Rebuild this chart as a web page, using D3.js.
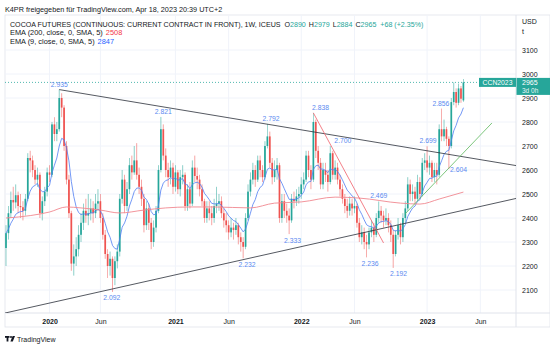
<!DOCTYPE html>
<html><head><meta charset="utf-8">
<script src="https://cdn.jsdelivr.net/npm/d3@7/dist/d3.min.js"></script>
<style>
body{margin:0;background:#fff;}
svg{display:block;font-family:"Liberation Sans",Arial,sans-serif;}
</style>
</head><body>
<svg id="chart" width="550" height="346"></svg>
<script>
// ---------- DATA ----------
const startDate = "2019-09-02"; // first weekly bar
const opens = [
2275,2337,2420,2475,2465,2495,2450,2445,2430,2480,
2650,2640,2600,2560,2580,2420,2470,2510,2590,2580,
2790,2750,2770,2900,2860,2700,2560,2420,2210,2240,
2270,2330,2380,2430,2410,2420,2440,2420,2460,2470,
2400,2330,2250,2200,2230,2150,2220,2260,2480,2560,
2450,2520,2620,2590,2640,2580,2530,2480,2370,2440,
2380,2300,2360,2430,2600,2770,2660,2600,2570,2610,
2530,2590,2520,2570,2580,2450,2520,2460,2610,2575,
2560,2520,2470,2400,2440,2420,2400,2450,2460,2470,
2420,2390,2370,2340,2360,2350,2370,2320,2300,2280,
2400,2510,2560,2600,2560,2640,2600,2570,2700,2740,
2630,2570,2600,2620,2400,2470,2430,2410,2390,2480,
2470,2490,2500,2540,2560,2660,2600,2560,2800,2680,
2630,2540,2600,2580,2550,2670,2580,2610,2560,2520,
2480,2450,2430,2460,2440,2450,2380,2320,2340,2300,
2290,2340,2360,2330,2400,2430,2410,2390,2400,2370,
2330,2250,2330,2370,2320,2400,2440,2540,2500,2510,
2480,2550,2500,2630,2640,2610,2630,2570,2600,2580,
2770,2740,2770,2730,2700,2883,2925,2880,2940,2890];
const highs = [
2370,2450,2510,2530,2540,2510,2500,2470,2500,2670,
2680,2660,2620,2610,2590,2490,2530,2610,2620,2800,
2820,2800,2935,2920,2870,2720,2580,2430,2290,2320,
2370,2420,2460,2480,2500,2480,2470,2500,2520,2500,
2420,2350,2270,2260,2240,2240,2290,2500,2600,2580,
2550,2650,2660,2700,2712,2610,2560,2500,2470,2460,
2400,2390,2450,2620,2821,2790,2690,2630,2640,2630,
2620,2600,2600,2620,2590,2540,2550,2640,2660,2610,
2580,2540,2480,2470,2470,2450,2480,2530,2500,2490,
2440,2420,2390,2400,2380,2400,2380,2340,2320,2420,
2540,2590,2630,2620,2660,2660,2620,2720,2792,2760,
2650,2640,2650,2630,2500,2500,2460,2440,2500,2510,
2520,2530,2570,2590,2680,2680,2620,2838,2810,2700,
2650,2630,2630,2600,2700,2680,2640,2630,2580,2540,
2500,2480,2490,2480,2490,2460,2400,2370,2360,2330,
2360,2390,2380,2420,2469,2450,2430,2440,2420,2390,
2350,2350,2400,2380,2420,2470,2570,2560,2540,2530,
2580,2570,2650,2670,2699,2660,2640,2630,2630,2790,
2856,2810,2780,2740,2900,2965,2940,2960,2950,2979];
const lows = [
2200,2310,2400,2430,2440,2420,2400,2390,2410,2470,
2590,2570,2540,2530,2400,2390,2450,2490,2550,2570,
2720,2720,2760,2820,2680,2540,2400,2180,2160,2200,
2240,2300,2350,2380,2370,2390,2380,2400,2430,2380,
2310,2230,2150,2160,2092,2120,2190,2240,2460,2420,
2430,2500,2560,2580,2560,2500,2450,2340,2350,2350,
2270,2280,2340,2420,2590,2640,2570,2530,2540,2500,
2510,2500,2490,2540,2430,2430,2440,2450,2550,2520,
2490,2450,2380,2380,2390,2370,2380,2420,2430,2400,
2360,2340,2310,2320,2310,2330,2290,2260,2232,2270,
2390,2490,2540,2530,2550,2570,2550,2560,2690,2610,
2540,2550,2560,2380,2380,2400,2380,2333,2380,2440,
2450,2460,2480,2520,2550,2570,2520,2550,2650,2600,
2520,2520,2550,2510,2540,2560,2560,2540,2490,2460,
2420,2400,2410,2410,2420,2360,2300,2290,2270,2236,
2270,2320,2300,2320,2380,2380,2360,2370,2340,2300,
2192,2240,2310,2290,2300,2380,2430,2470,2470,2460,
2470,2480,2490,2600,2590,2580,2550,2550,2540,2570,
2720,2720,2700,2604,2690,2870,2860,2870,2880,2884];
const closes = [
2337,2420,2475,2465,2495,2450,2445,2430,2480,2650,
2640,2600,2560,2580,2420,2470,2510,2590,2580,2790,
2750,2770,2900,2860,2700,2560,2420,2210,2240,2270,
2330,2380,2430,2410,2420,2440,2420,2460,2470,2400,
2330,2250,2200,2230,2150,2220,2260,2480,2560,2450,
2520,2620,2590,2640,2580,2530,2480,2370,2440,2380,
2300,2360,2430,2600,2770,2660,2600,2570,2610,2530,
2590,2520,2570,2580,2450,2520,2460,2610,2575,2560,
2520,2470,2400,2440,2420,2400,2450,2460,2470,2420,
2390,2370,2340,2360,2350,2370,2320,2300,2280,2400,
2510,2560,2600,2560,2640,2600,2570,2700,2740,2630,
2570,2600,2620,2400,2470,2430,2410,2390,2480,2470,
2490,2500,2540,2560,2660,2600,2560,2800,2680,2630,
2540,2600,2580,2550,2670,2580,2610,2560,2520,2480,
2450,2430,2460,2440,2450,2380,2320,2340,2300,2290,
2340,2360,2330,2400,2430,2410,2390,2400,2370,2330,
2250,2330,2370,2320,2400,2440,2540,2500,2510,2480,
2550,2500,2630,2640,2610,2630,2570,2600,2580,2770,
2740,2770,2730,2700,2883,2925,2880,2940,2897,2965];

// EMA 200 (bar index, value)
const ema200Bars = [0,10,18,25,31,39,47,57,66,76,86,101,111,122,136,146,163,171,179,189];
const ema200Vals = [2400,2410,2425,2446,2442,2433,2421,2433,2442,2446,2446,2442,2462,2467,2487,2483,2462,2458,2479,2508];

const yTicks = [2100,2200,2300,2400,2500,2600,2700,2800,2900,3000,3100];
const xTickDates = ["2020-01-06","2020-06-01","2021-01-04","2021-06-07","2022-01-03","2022-06-06","2023-01-02","2023-06-05"];
const xTickLabels = ["2020","Jun","2021","Jun","2022","Jun","2023","Jun"];

// pivot labels: bar position, value, kind
const pivotBars  = [22,43.7,65,99.6,109.5,118.4,130,139.2,150.4,154,162.2,174.4,179.7,187];
const pivotVals  = [2935,2092,2821,2232,2792,2333,2838,2700,2236,2469,2192,2699,2856,2604];
const pivotKinds = ["h","l","h","l","h","l","h","h","l","h","l","h","h","r"];

// drawn trend lines: [bar, price] endpoints
const upperLine = [[22,2935],[211,2618]];
const lowerLine = [[-0.4,2004],[211,2482]];
const redLine   = [[127,2838],[156,2296]];
const greenLine = [[164.9,2417],[200.8,2796]];

const lastClose = 2965;

// ---------- CHART ----------
const W = 550, H = 346;
const plot = {left:5, right:516, top:15, bottom:313};
const svg = d3.select("#chart");
const DAY = 86400000;
const t0 = Date.parse(startDate + "T00:00:00Z");
const barDate = i => new Date(t0 + i*7*DAY);
const n = closes.length;

const x = d3.scaleUtc().domain([barDate(0), barDate(n-1)]).range([6, 463.4]);
const y = d3.scaleLinear().domain([2100, 3000]).range([290, 74]);
const xb = i => x(barDate(i));

const UP = "#26a69a", DOWN = "#ef5350", TXT = "#131722", GRID = "#f0f3fa", BORDER = "#e0e3eb";

// header
svg.append("text").attr("x",5).attr("y",12).attr("font-size",7.25).attr("fill",TXT)
  .text("K4PR freigegeben für TradingView.com, Apr 18, 2023 20:39 UTC+2");

// panel border
svg.append("rect").attr("x",plot.left).attr("y",plot.top).attr("width",W-plot.left).attr("height",327-plot.top)
  .attr("fill","none").attr("stroke",BORDER).attr("stroke-width",0.8);

// grid
const g = svg.append("g");
g.selectAll("line.h").data(yTicks).join("line")
  .attr("x1",plot.left).attr("x2",plot.right).attr("y1",d=>y(d)).attr("y2",d=>y(d))
  .attr("stroke",GRID).attr("stroke-width",1);
const tickDates = xTickDates.map(s=>new Date(s+"T00:00:00Z"));
g.selectAll("line.v").data(tickDates).join("line")
  .attr("x1",d=>x(d)).attr("x2",d=>x(d)).attr("y1",plot.top).attr("y2",plot.bottom)
  .attr("stroke",GRID).attr("stroke-width",1);

// axes
const yAxis = d3.axisRight(y).tickValues(yTicks).tickSize(0).tickPadding(6).tickFormat(d3.format("d"));
const ya = svg.append("g").attr("transform",`translate(${plot.right},0)`).call(yAxis);
ya.select(".domain").attr("stroke",BORDER).attr("d",`M0,${plot.top}V327`);
ya.selectAll("text").attr("font-size",7).attr("fill",TXT).attr("font-family","Liberation Sans, Arial, sans-serif");

const xAxis = d3.axisBottom(x).tickValues(tickDates).tickSize(0).tickPadding(6)
  .tickFormat((d,i)=>xTickLabels[i]);
const xa = svg.append("g").attr("transform",`translate(0,${plot.bottom})`).call(xAxis);
xa.select(".domain").attr("stroke",BORDER).attr("d",`M${plot.left},0H${W}`);
xa.selectAll("text").attr("font-size",7).attr("fill",TXT)
  .attr("font-weight",(d,i)=>/\d/.test(xTickLabels[i]) ? "bold" : "normal")
  .attr("font-family","Liberation Sans, Arial, sans-serif");

svg.append("text").attr("x",522).attr("y",24).attr("font-size",7).attr("fill",TXT).text("USD");
svg.append("text").attr("x",522).attr("y",34).attr("font-size",7).attr("fill",TXT).text("t");

// clip
svg.append("clipPath").attr("id","clip").append("rect")
  .attr("x",plot.left).attr("y",plot.top).attr("width",plot.right-plot.left).attr("height",plot.bottom-plot.top);
const pg = svg.append("g").attr("clip-path","url(#clip)");

// last price dotted line
pg.append("line").attr("x1",plot.left).attr("x2",plot.right).attr("y1",y(lastClose)).attr("y2",y(lastClose))
  .attr("stroke",UP).attr("stroke-width",0.8).attr("stroke-dasharray","1,2");

// candles
const bars = d3.range(n).map(i=>({i,o:opens[i],h:highs[i],l:lows[i],c:closes[i]}));
const cg = pg.append("g");
cg.selectAll("line.w").data(bars).join("line")
  .attr("x1",d=>xb(d.i)).attr("x2",d=>xb(d.i)).attr("y1",d=>y(d.h)).attr("y2",d=>y(d.l))
  .attr("stroke",d=>d.c>=d.o?UP:DOWN).attr("stroke-width",0.7).attr("opacity",0.75);
cg.selectAll("rect").data(bars).join("rect")
  .attr("x",d=>xb(d.i)-0.85).attr("width",1.7)
  .attr("y",d=>y(Math.max(d.o,d.c)))
  .attr("height",d=>Math.max(0.8, Math.abs(y(d.o)-y(d.c))))
  .attr("fill",d=>d.c>=d.o?UP:DOWN);

// EMA 9 computed from closes
const ema9 = [];
closes.forEach((c,i)=>{ ema9.push(i===0 ? c : ema9[i-1] + (2/10)*(c-ema9[i-1])); });
pg.append("path").datum(ema9)
  .attr("d", d3.line().x((d,i)=>xb(i)).y(d=>y(d)))
  .attr("fill","none").attr("stroke","#4f7ef2").attr("stroke-width",0.8);

// EMA 200
pg.append("path").datum(ema200Bars.map((b,k)=>[b,ema200Vals[k]]))
  .attr("d", d3.line().x(d=>xb(d[0])).y(d=>y(d[1])).curve(d3.curveMonotoneX))
  .attr("fill","none").attr("stroke","#f08890").attr("stroke-width",0.9);

// trend lines
const tl = (pts,color,w)=>pg.append("line")
  .attr("x1",xb(pts[0][0])).attr("y1",y(pts[0][1]))
  .attr("x2",xb(pts[1][0])).attr("y2",y(pts[1][1]))
  .attr("stroke",color).attr("stroke-width",w);
tl(upperLine,"#2a2e39",0.8);
tl(lowerLine,"#2a2e39",0.8);
tl(redLine,"#f0606a",0.8);
tl(greenLine,"#5cb85c",0.8);

// pivot labels
pg.selectAll("text.pv").data(pivotBars.map((b,k)=>({b,v:pivotVals[k],k:pivotKinds[k]}))).join("text")
  .attr("x",d=>xb(d.b)).attr("y",d=>y(d.v) + (d.k==="h" ? -3 : d.k==="l" ? 8.5 : 2.5))
  .attr("text-anchor","middle").attr("font-size",6.8).attr("fill","#5b8af0")
  .text(d=>d3.format(".3f")(d.v/1000));

// symbol tag and price tag
const ty = y(lastClose);
svg.append("rect").attr("x",479).attr("y",ty-4.5).attr("width",37).attr("height",9).attr("fill",UP);
svg.append("text").attr("x",497.5).attr("y",ty+2.4).attr("text-anchor","middle").attr("font-size",6.8)
  .attr("fill","#fff").text("CCN2023");
svg.append("rect").attr("x",516.5).attr("y",ty-4.5).attr("width",33.5).attr("height",17).attr("fill",UP);
svg.append("text").attr("x",522).attr("y",ty+2.4).attr("font-size",7).attr("fill","#fff").text(String(lastClose));
svg.append("text").attr("x",522).attr("y",ty+10.2).attr("font-size",6.5).attr("fill","#fff").attr("opacity",0.9).text("3d 0h");

// legend
const lg = svg.append("g").attr("font-size",7.1).attr("fill",TXT);
const l1 = lg.append("text").attr("x",10).attr("y",26.5);
l1.append("tspan").text("COCOA FUTURES (CONTINUOUS: CURRENT CONTRACT IN FRONT), 1W, ICEUS");
l1.append("tspan").attr("dx",4).text("O");
l1.append("tspan").attr("fill",UP).text("2890");
l1.append("tspan").attr("dx",3).text("H");
l1.append("tspan").attr("fill",UP).text("2979");
l1.append("tspan").attr("dx",3).text("L");
l1.append("tspan").attr("fill",UP).text("2884");
l1.append("tspan").attr("dx",3).text("C");
l1.append("tspan").attr("fill",UP).text("2965");
l1.append("tspan").attr("dx",4).attr("fill",UP).text("+68 (+2.35%)");
const l2 = lg.append("text").attr("x",10).attr("y",35.2).attr("font-size",7.4);
l2.append("tspan").text("EMA (200, close, 0, SMA, 5)");
l2.append("tspan").attr("dx",3).attr("fill","#f23645").text("2508");
const l3 = lg.append("text").attr("x",10).attr("y",44).attr("font-size",7.4);
l3.append("tspan").text("EMA (9, close, 0, SMA, 5)");
l3.append("tspan").attr("dx",3).attr("fill","#2962ff").text("2847");

// footer logo
const logo = svg.append("g").attr("fill",TXT);
logo.append("rect").attr("x",5).attr("y",336).attr("width",4.5).attr("height",1.8);
logo.append("rect").attr("x",6.6).attr("y",336).attr("width",1.8).attr("height",5.5);
logo.append("circle").attr("cx",11).attr("cy",337).attr("r",1);
logo.append("path").attr("d","M12.6,336 L15,336 L12.8,341.5 L10.4,341.5 Z");
svg.append("text").attr("x",17).attr("y",341.5).attr("font-size",7).attr("fill",TXT).text("TradingView");
</script>
</body></html>
